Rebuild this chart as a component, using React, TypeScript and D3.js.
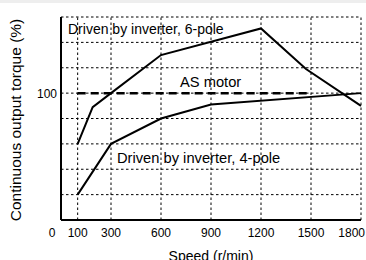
import * as React from 'react';
import * as d3 from 'd3';

const speedTicks = [100, 300, 600, 900, 1200, 1500, 1800];
const torqueGrid = [20, 40, 60, 80, 100, 120, 140, 160];
const torqueTicks = [100];

const sixPoleSpeed = [100, 190, 300, 600, 1200, 1470, 1800];
const sixPoleTorque = [60, 89, 100, 130, 151, 119, 90];

const fourPoleSpeed = [100, 300, 600, 900, 1800];
const fourPoleTorque = [20, 60, 80, 91, 100];

const asMotorSpeed = [100, 1500];
const asMotorTorque = [100, 100];

const width = 366;
const height = 260;
const margin = { top: 17, right: 5, bottom: 40, left: 61 };
const font = '"Liberation Sans", Arial, Helvetica, sans-serif';

export default function App() {
  const ref = React.useRef<SVGSVGElement>(null);

  React.useEffect(() => {
    const svg = d3.select(ref.current);
    svg.selectAll('*').remove();

    const x = d3.scaleLinear().domain([0, 1800]).range([margin.left, width - margin.right]);
    const y = d3.scaleLinear().domain([0, 160]).range([height - margin.bottom, margin.top]);

    // light strip at the very top of the picture
    svg.append('rect').attr('x', 0).attr('y', 0).attr('width', width).attr('height', 3).attr('fill', '#eeeeee');

    const g = svg.append('g');

    // dotted grid
    g.append('g')
      .selectAll('line')
      .data(torqueGrid)
      .enter().append('line')
      .attr('x1', x(0)).attr('x2', x(1800))
      .attr('y1', d => y(d)).attr('y2', d => y(d))
      .attr('stroke', '#000').attr('stroke-width', 1)
      .attr('stroke-dasharray', '2.5,2.5');

    g.append('g')
      .selectAll('line')
      .data(speedTicks)
      .enter().append('line')
      .attr('x1', d => x(d)).attr('x2', d => x(d))
      .attr('y1', y(0)).attr('y2', y(160))
      .attr('stroke', '#000').attr('stroke-width', 1)
      .attr('stroke-dasharray', '2.5,2.5');

    // axes lines
    g.append('line')
      .attr('x1', x(0)).attr('x2', x(0)).attr('y1', y(0)).attr('y2', y(160))
      .attr('stroke', '#000').attr('stroke-width', 2);
    g.append('line')
      .attr('x1', x(0)).attr('x2', x(1800)).attr('y1', y(0)).attr('y2', y(0))
      .attr('stroke', '#000').attr('stroke-width', 2);

    // tick labels
    g.append('g')
      .selectAll('text')
      .data([0, ...speedTicks])
      .enter().append('text')
      .attr('x', d => (d === 0 ? x(0) - 9 : d === 1800 ? width - 1 : x(d)))
      .attr('y', y(0) + 17)
      .attr('text-anchor', d => (d === 1800 ? 'end' : 'middle'))
      .attr('font-family', font).attr('font-size', 12)
      .text(d => d);

    g.append('g')
      .selectAll('text')
      .data(torqueTicks)
      .enter().append('text')
      .attr('x', x(0) - 4)
      .attr('y', d => y(d) + 4.5)
      .attr('text-anchor', 'end')
      .attr('font-family', font).attr('font-size', 12)
      .text(d => d);

    // axis titles
    g.append('text')
      .attr('x', 211).attr('y', 261)
      .attr('text-anchor', 'middle')
      .attr('font-family', font).attr('font-size', 14)
      .text('Speed (r/min)');

    g.append('text')
      .attr('transform', `translate(21, 120) rotate(-90)`)
      .attr('text-anchor', 'middle')
      .attr('font-family', font).attr('font-size', 15.5)
      .text('Continuous output torque (%)');

    const line = d3.line<[number, number]>()
      .x(d => x(d[0]))
      .y(d => y(d[1]));

    const zip = (a: number[], b: number[]) => a.map((v, i) => [v, b[i]] as [number, number]);

    g.append('path')
      .attr('d', line(zip(asMotorSpeed, asMotorTorque)))
      .attr('fill', 'none').attr('stroke', '#000').attr('stroke-width', 2.5)
      .attr('stroke-dasharray', '8,5');

    g.append('path')
      .attr('d', line(zip(sixPoleSpeed, sixPoleTorque)))
      .attr('fill', 'none').attr('stroke', '#000').attr('stroke-width', 2)
      .attr('stroke-linejoin', 'miter');

    g.append('path')
      .attr('d', line(zip(fourPoleSpeed, fourPoleTorque)))
      .attr('fill', 'none').attr('stroke', '#000').attr('stroke-width', 2);

    // series labels
    g.append('text')
      .attr('x', 68).attr('y', 34)
      .attr('font-family', font).attr('font-size', 14)
      .text('Driven by inverter, 6-pole');

    g.append('text')
      .attr('x', 180).attr('y', 86.5)
      .attr('font-family', font).attr('font-size', 14.7)
      .text('AS motor');

    g.append('text')
      .attr('x', 117).attr('y', 162.5)
      .attr('font-family', font).attr('font-size', 14.7)
      .text('Driven by inverter, 4-pole');
  }, []);

  return (
    <svg ref={ref} width={width} height={height}
      style={{ position: 'absolute', left: 0, top: 0, background: '#fff' }} />
  );
}
